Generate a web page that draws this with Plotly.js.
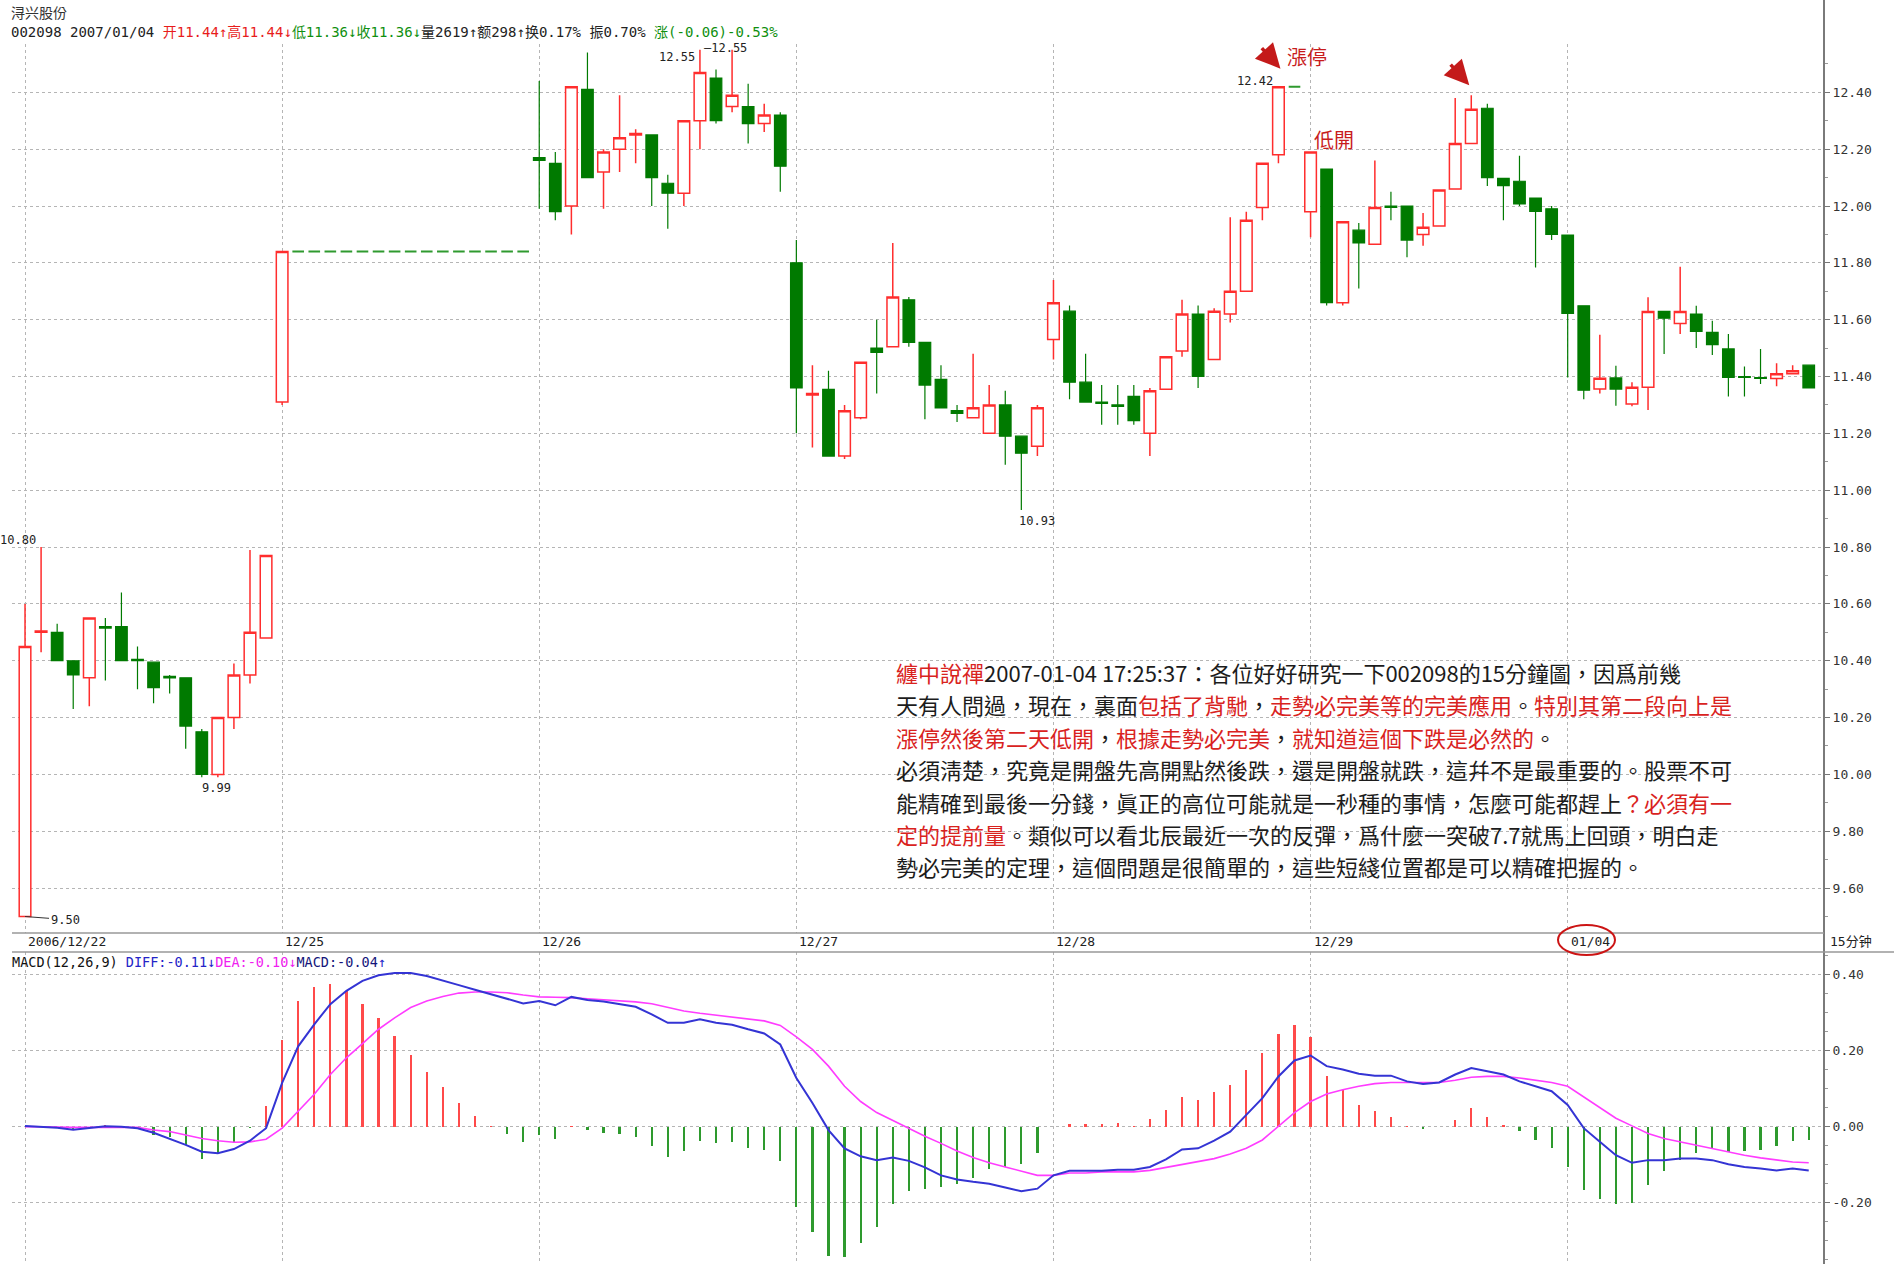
<!DOCTYPE html>
<html><head><meta charset="utf-8">
<script src="https://cdn.plot.ly/plotly-3.0.1.min.js"></script>
<style>html,body{margin:0;padding:0;background:#fff;}#chart{width:1894px;height:1264px;}</style>
</head><body><div id="chart"></div>
<script>
// ---- data ----
const dayLabels = ['2006/12/22','12/25','12/26','12/27','12/28','12/29','01/04'];
const barsPerDay = 16;

const openP = [
 9.50,10.50,10.50,10.40,10.34,10.52,10.52,10.405,10.395,10.345,10.34,10.15,10.00,10.20,10.35,10.48,
 11.31,11.84,11.84,11.84,11.84,11.84,11.84,11.84,11.84,11.84,11.84,11.84,11.84,11.84,11.84,11.84,
 12.17,12.15,12.00,12.41,12.12,12.20,12.25,12.25,12.08,12.045,12.30,12.45,12.35,12.35,12.29,12.32,
 11.80,11.335,11.355,11.12,11.255,11.50,11.505,11.67,11.52,11.39,11.28,11.255,11.20,11.30,11.19,11.155,
 11.53,11.63,11.38,11.31,11.30,11.33,11.20,11.355,11.49,11.62,11.46,11.62,11.70,11.995,12.18,12.42,
 11.98,12.13,11.66,11.915,11.865,12.00,12.00,11.90,11.93,12.06,12.22,12.344,12.097,12.087,12.028,11.99,
 11.898,11.649,11.356,11.395,11.303,11.362,11.629,11.587,11.62,11.555,11.497,11.40,11.396,11.393,11.41,11.44];
const highP = [
 10.60,10.80,10.53,10.40,10.55,10.55,10.64,10.45,10.395,10.35,10.34,10.16,10.20,10.39,10.79,10.77,
 11.84,11.84,11.84,11.84,11.84,11.84,11.84,11.84,11.84,11.84,11.84,11.84,11.84,11.84,11.84,11.84,
 12.44,12.19,12.42,12.54,12.20,12.39,12.27,12.25,12.11,12.30,12.55,12.48,12.55,12.43,12.36,12.33,
 11.88,11.44,11.42,11.30,11.45,11.60,11.87,11.68,11.52,11.44,11.30,11.48,11.37,11.35,11.19,11.30,
 11.74,11.65,11.48,11.37,11.37,11.37,11.36,11.47,11.67,11.65,11.64,11.96,11.98,12.15,12.42,12.42,
 12.19,12.13,11.945,11.94,12.16,12.05,12.00,11.975,12.056,12.38,12.39,12.36,12.097,12.177,12.028,12.00,
 11.898,11.649,11.547,11.438,11.38,11.679,11.629,11.786,11.649,11.596,11.55,11.435,11.497,11.447,11.44,11.44];
const lowP = [
 9.50,10.43,10.40,10.23,10.24,10.33,10.40,10.30,10.25,10.285,10.09,9.99,9.99,10.16,10.32,10.48,
 11.30,11.84,11.84,11.84,11.84,11.84,11.84,11.84,11.84,11.84,11.84,11.84,11.84,11.84,11.84,11.84,
 11.99,11.95,11.90,12.10,11.99,12.12,12.15,12.00,11.92,12.00,12.20,12.29,12.33,12.22,12.26,12.05,
 11.20,11.15,11.12,11.11,11.25,11.34,11.505,11.505,11.25,11.29,11.24,11.255,11.20,11.09,10.93,11.12,
 11.46,11.32,11.31,11.23,11.23,11.23,11.12,11.355,11.47,11.36,11.46,11.59,11.70,11.95,12.15,12.42,
 11.89,11.65,11.65,11.71,11.865,11.95,11.82,11.86,11.93,12.06,12.22,12.07,11.95,12.00,11.784,11.88,
 11.397,11.32,11.34,11.297,11.295,11.282,11.479,11.55,11.50,11.476,11.33,11.33,11.374,11.366,11.41,11.36];
const closeP = [
 10.45,10.505,10.40,10.35,10.55,10.515,10.40,10.40,10.305,10.34,10.17,10.00,10.20,10.35,10.50,10.77,
 11.84,11.84,11.84,11.84,11.84,11.84,11.84,11.84,11.84,11.84,11.84,11.84,11.84,11.84,11.84,11.84,
 12.16,11.98,12.42,12.10,12.19,12.24,12.255,12.10,12.045,12.30,12.47,12.30,12.39,12.29,12.32,12.14,
 11.36,11.34,11.12,11.28,11.45,11.485,11.68,11.52,11.37,11.29,11.27,11.29,11.30,11.19,11.13,11.29,
 11.66,11.38,11.31,11.305,11.295,11.245,11.35,11.47,11.62,11.40,11.63,11.70,11.95,12.15,12.42,12.42,
 12.19,11.66,11.945,11.87,11.995,11.995,11.88,11.925,12.056,12.22,12.34,12.10,12.072,12.007,11.981,11.90,
 11.622,11.352,11.394,11.356,11.362,11.629,11.605,11.629,11.559,11.512,11.397,11.397,11.393,11.41,11.42,11.36];

const diffV = [
 0.002,0.000,-0.003,-0.008,-0.003,0.001,0.000,-0.004,-0.016,-0.031,-0.048,-0.066,-0.070,-0.059,-0.037,-0.004,
 0.115,0.211,0.269,0.322,0.357,0.383,0.398,0.404,0.404,0.396,0.385,0.372,0.360,0.348,0.337,0.324,
 0.330,0.319,0.341,0.333,0.329,0.322,0.315,0.295,0.273,0.273,0.282,0.273,0.268,0.256,0.245,0.216,
 0.128,0.062,-0.009,-0.057,-0.078,-0.088,-0.081,-0.090,-0.107,-0.128,-0.139,-0.145,-0.150,-0.160,-0.170,-0.163,
 -0.128,-0.116,-0.116,-0.116,-0.113,-0.113,-0.106,-0.086,-0.060,-0.057,-0.037,-0.013,0.031,0.075,0.132,0.174,
 0.187,0.159,0.150,0.139,0.134,0.134,0.119,0.112,0.116,0.137,0.154,0.145,0.137,0.119,0.107,0.093,
 0.057,-0.004,-0.040,-0.075,-0.095,-0.088,-0.088,-0.084,-0.084,-0.088,-0.099,-0.106,-0.110,-0.115,-0.110,-0.115];
const deaV = [
 0.000,0.000,-0.001,-0.002,-0.002,-0.001,-0.001,-0.002,-0.009,-0.013,-0.022,-0.031,-0.037,-0.041,-0.040,-0.033,
 -0.004,0.040,0.085,0.137,0.181,0.218,0.256,0.286,0.313,0.330,0.342,0.351,0.354,0.354,0.352,0.346,
 0.341,0.340,0.339,0.336,0.333,0.330,0.328,0.323,0.313,0.304,0.298,0.293,0.289,0.284,0.278,0.266,
 0.236,0.203,0.159,0.106,0.066,0.037,0.016,-0.004,-0.025,-0.044,-0.064,-0.081,-0.095,-0.106,-0.116,-0.128,
 -0.128,-0.122,-0.122,-0.119,-0.119,-0.119,-0.115,-0.107,-0.099,-0.093,-0.084,-0.072,-0.057,-0.035,0.000,0.037,
 0.066,0.086,0.097,0.106,0.113,0.116,0.116,0.116,0.116,0.122,0.130,0.132,0.132,0.128,0.122,0.116,
 0.106,0.078,0.048,0.022,0.002,-0.018,-0.031,-0.040,-0.048,-0.057,-0.066,-0.075,-0.082,-0.088,-0.093,-0.095];
const macdV = [
 0.000,-0.002,-0.004,-0.010,-0.003,0.004,0.002,-0.003,-0.022,-0.026,-0.047,-0.084,-0.072,-0.042,-0.003,0.055,
 0.229,0.330,0.368,0.376,0.357,0.322,0.285,0.238,0.189,0.143,0.103,0.062,0.029,0.002,-0.019,-0.040,
 -0.022,-0.033,0.003,-0.009,-0.016,-0.019,-0.028,-0.050,-0.079,-0.065,-0.037,-0.044,-0.040,-0.055,-0.062,-0.090,
 -0.210,-0.278,-0.339,-0.342,-0.306,-0.264,-0.203,-0.169,-0.163,-0.159,-0.150,-0.134,-0.112,-0.106,-0.099,-0.069,
 0.000,0.007,0.007,0.007,0.009,0.003,0.019,0.044,0.077,0.070,0.091,0.110,0.150,0.194,0.244,0.266,
 0.236,0.132,0.097,0.056,0.040,0.025,0.002,-0.007,0.000,0.018,0.048,0.026,0.005,-0.011,-0.035,-0.055,
 -0.107,-0.166,-0.189,-0.203,-0.201,-0.154,-0.117,-0.088,-0.070,-0.060,-0.066,-0.063,-0.062,-0.050,-0.037,-0.035];

const priceTicks = [9.6,9.8,10.0,10.2,10.4,10.6,10.8,11.0,11.2,11.4,11.6,11.8,12.0,12.2,12.4];
const macdTicks = [-0.2,0.0,0.2,0.4];

// ---- helpers ----
const W = 1894, H = 1264, ML = 12, MR = 70;
const PW = W - ML - MR;
const PX = fx => (fx - ML) / PW;
const PY = fy => 1 - fy / H;
const idx = openP.map((_, i) => i);
const dayStarts = dayLabels.map((_, k) => k * barsPerDay);
const isFlat = i => highP[i] === lowP[i];
const isUp = i => !isFlat(i) && closeP[i] > openP[i];
const isDown = i => !isFlat(i) && !(closeP[i] > openP[i]);
function pick(cond) {
  const s = {x: [], o: [], h: [], l: [], c: []};
  idx.forEach(i => { if (cond(i)) { s.x.push(i); s.o.push(openP[i]); s.h.push(highP[i]); s.l.push(lowP[i]); s.c.push(closeP[i]); } });
  return s;
}
function candle(s, lineColor, fill, w) {
  const st = {line: {color: lineColor, width: w}, fillcolor: fill};
  return {type: 'candlestick', x: s.x, open: s.o, high: s.h, low: s.l, close: s.c,
    xaxis: 'x', yaxis: 'y', increasing: st, decreasing: st, whiskerwidth: 0, hoverinfo: 'skip'};
}
const RED = '#ff2d2d', GREEN = '#007a00';
const up = pick(isUp), dn = pick(isDown), fl = pick(isFlat);

const traces = [
  candle(up, RED, '#ffffff', 1.5),
  candle(dn, GREEN, GREEN, 1.2),
  candle(fl, '#2f9a2f', '#2f9a2f', 2),
  {type: 'bar', x: idx, y: macdV, xaxis: 'x', yaxis: 'y2', width: 0.14,
   marker: {color: macdV.map(v => v >= 0 ? '#ff4a4a' : '#2e9a2e'), line: {width: 0}}, hoverinfo: 'skip'},
  {type: 'scatter', mode: 'lines', x: idx, y: deaV, xaxis: 'x', yaxis: 'y2',
   line: {color: '#ff3cff', width: 1.6}, hoverinfo: 'skip'},
  {type: 'scatter', mode: 'lines', x: idx, y: diffV, xaxis: 'x', yaxis: 'y2',
   line: {color: '#3434d4', width: 2}, hoverinfo: 'skip'}
];

const MONO = 'DejaVu Sans Mono, Noto Sans CJK SC, monospace';
const CJK = 'Noto Sans CJK TC, Noto Sans CJK SC, sans-serif';
const CRED = '#d9231e';
const r = t => '<span style="color:' + CRED + '">' + t + '</span>';

const ann = [];
// header
ann.push({xref: 'paper', yref: 'paper', x: PX(9), y: PY(12), xanchor: 'left', yanchor: 'middle', showarrow: false,
  text: '浔兴股份', font: {family: CJK, size: 14, color: '#333'}});
ann.push({xref: 'paper', yref: 'paper', x: PX(9), y: PY(32), xanchor: 'left', yanchor: 'middle', showarrow: false,
  text: '002098 2007/01/04 <span style="color:#e81c1c">开11.44↑高11.44↓</span><span style="color:#0f8f0f">低11.36↓收11.36↓</span>量2619↑额298↑换0.17% 振0.70% <span style="color:#0f8f0f">涨(-0.06)-0.53%</span>',
  font: {family: MONO, size: 14, color: '#222'}});

// price labels
const lab = (x, y, text, xa, ya, xs, ys) => ({x, y, xref: 'x', yref: 'y', text, showarrow: false, xanchor: xa, yanchor: ya,
  xshift: xs, yshift: ys, font: {family: MONO, size: 12, color: '#222'}});
ann.push(lab(42, highP[42], '12.55', 'right', 'middle', -3, -7));
ann.push(lab(42, highP[42], '—12.55', 'left', 'middle', 2, 2));
ann.push(lab(78, highP[78], '12.42', 'right', 'middle', -3, 6));
ann.push(lab(62, lowP[62], '10.93', 'left', 'top', -4, -2));
ann.push(lab(11, lowP[11], '9.99', 'left', 'top', -2, -2));
ann.push(lab(1, highP[1], '10.80', 'right', 'middle', -3, 7));
ann.push({x: 0, y: lowP[0], xref: 'x', yref: 'y', text: '9.50', showarrow: true, arrowhead: 0, arrowwidth: 1,
  arrowcolor: '#333', ax: 40, ay: 3, font: {family: MONO, size: 12, color: '#222'}});

// red callouts
ann.push({x: 78, y: highP[78], xref: 'x', yref: 'y', text: '漲停', showarrow: false, xanchor: 'left', yanchor: 'middle',
  xshift: 7, yshift: 30, font: {family: CJK, size: 20, color: '#c81c1c'}});
ann.push({x: 80, y: highP[80], xref: 'x', yref: 'y', text: '低開', showarrow: false, xanchor: 'left', yanchor: 'middle',
  xshift: 1, yshift: 12, font: {family: CJK, size: 20, color: '#c81c1c'}});
ann.push({x: 78, y: highP[78], xref: 'x', yref: 'y', text: '', showarrow: true, arrowhead: 2, arrowsize: 1.4,
  arrowwidth: 3.5, arrowcolor: '#c41a1a', ax: -20, ay: -22, xshift: 2, yshift: 18});
ann.push({x: 90, y: highP[90], xref: 'x', yref: 'y', text: '', showarrow: true, arrowhead: 2, arrowsize: 1.4,
  arrowwidth: 3.5, arrowcolor: '#c41a1a', ax: -20, ay: -22, xshift: -2, yshift: 10});

// commentary
const lines = [
  r('纏中說禪') + '2007-01-04 17:25:37：各位好好研究一下002098的15分鐘圖，因爲前幾',
  '天有人問過，現在，裏面' + r('包括了背馳') + '，' + r('走勢必完美等的完美應用') + '。' + r('特別其第二段向上是'),
  r('漲停然後第二天低開') + '，' + r('根據走勢必完美') + '，' + r('就知道這個下跌是必然的') + '。',
  '必須淸楚，究竟是開盤先高開點然後跌，還是開盤就跌，這幷不是最重要的。股票不可',
  '能精確到最後一分錢，眞正的高位可能就是一秒種的事情，怎麼可能都趕上' + r('？必須有一'),
  r('定的提前量') + '。類似可以看北辰最近一次的反彈，爲什麼一突破7.7就馬上回頭，明白走',
  '勢必完美的定理，這個問題是很簡單的，這些短綫位置都是可以精確把握的。'
];
lines.forEach((t, k) => ann.push({xref: 'paper', yref: 'paper', x: PX(894), y: PY(672 + k * 32.4), xanchor: 'left',
  yanchor: 'middle', showarrow: false, text: t, font: {family: CJK, size: 22, color: '#1c1c1c'}}));

// x labels in band
dayLabels.forEach((d, k) => ann.push({x: dayStarts[k], y: PY(941), xref: 'x', yref: 'paper', text: d, showarrow: false,
  xanchor: 'left', yanchor: 'middle', xshift: 1, font: {family: MONO, size: 13, color: '#222'}}));
ann.push({xref: 'paper', yref: 'paper', x: PX(1828), y: PY(941), xanchor: 'left', yanchor: 'middle', showarrow: false,
  text: '15分钟', font: {family: MONO, size: 13, color: '#222'}});

// MACD header
ann.push({xref: 'paper', yref: 'paper', x: PX(10), y: PY(962), xanchor: 'left', yanchor: 'middle', showarrow: false,
  text: 'MACD(12,26,9) <span style="color:#2424c8">DIFF:-0.11↓</span><span style="color:#f020f0">DEA:-0.10↓</span><span style="color:#14147a">MACD:-0.04</span><span style="color:#2424c8">↑</span>',
  font: {family: MONO, size: 13.5, color: '#111'}});

const shapes = [
  {type: 'line', xref: 'paper', yref: 'paper', x0: 1, x1: 1, y0: 0, y1: 1, line: {color: '#7a7a7a', width: 2}},
  {type: 'line', xref: 'paper', yref: 'paper', x0: 0, x1: 1, y0: PY(933), y1: PY(933), line: {color: '#999', width: 1.5}},
  {type: 'line', xref: 'paper', yref: 'paper', x0: 0, x1: PX(1894), y0: PY(952), y1: PY(952), line: {color: '#999', width: 1.5}},
  {type: 'circle', xref: 'paper', yref: 'paper', x0: PX(1558), x1: PX(1615), y0: PY(955), y1: PY(925), line: {color: '#cc1414', width: 2}}
];

const axFont = {family: MONO, size: 13, color: '#333'};
const layout = {
  width: W, height: H, margin: {l: ML, r: MR, t: 0, b: 0}, paper_bgcolor: '#fff', plot_bgcolor: '#fff',
  showlegend: false, boxmode: 'overlay', boxgap: 0.15, boxgroupgap: 0.15, bargap: 0,
  xaxis: {range: [-0.81, 111.95], tickmode: 'array', tickvals: dayStarts, showticklabels: false, ticks: '',
    showgrid: true, gridcolor: '#b5b5b5', griddash: 'dot', gridwidth: 1, zeroline: false, showline: false,
    rangeslider: {visible: false}, anchor: 'y2'},
  yaxis: {domain: [PY(933), PY(44)], range: [9.442, 12.570], side: 'right', anchor: 'x', tickmode: 'array',
    tickvals: priceTicks, ticktext: priceTicks.map(v => v.toFixed(2)), ticks: 'outside', ticklen: 5, tickcolor: '#777',
    showgrid: true, gridcolor: '#b5b5b5', griddash: 'dot', zeroline: false, showline: false, tickfont: axFont,
    minor: {tickmode: 'linear', tick0: 9.5, dtick: 0.1, ticks: 'outside', ticklen: 3, tickcolor: '#999', showgrid: false}},
  yaxis2: {domain: [0, PY(952)], range: [-0.361, 0.459], side: 'right', anchor: 'x', tickmode: 'array',
    tickvals: macdTicks, ticktext: macdTicks.map(v => v.toFixed(2)), ticks: 'outside', ticklen: 5, tickcolor: '#777',
    showgrid: true, gridcolor: '#b5b5b5', griddash: 'dot', zeroline: false, showline: false, tickfont: axFont,
    minor: {tickmode: 'linear', tick0: 0, dtick: 0.05, ticks: 'outside', ticklen: 3, tickcolor: '#999', showgrid: false}},
  annotations: ann, shapes: shapes
};
Plotly.newPlot('chart', traces, layout, {staticPlot: true, displayModeBar: false});
</script></body></html>
